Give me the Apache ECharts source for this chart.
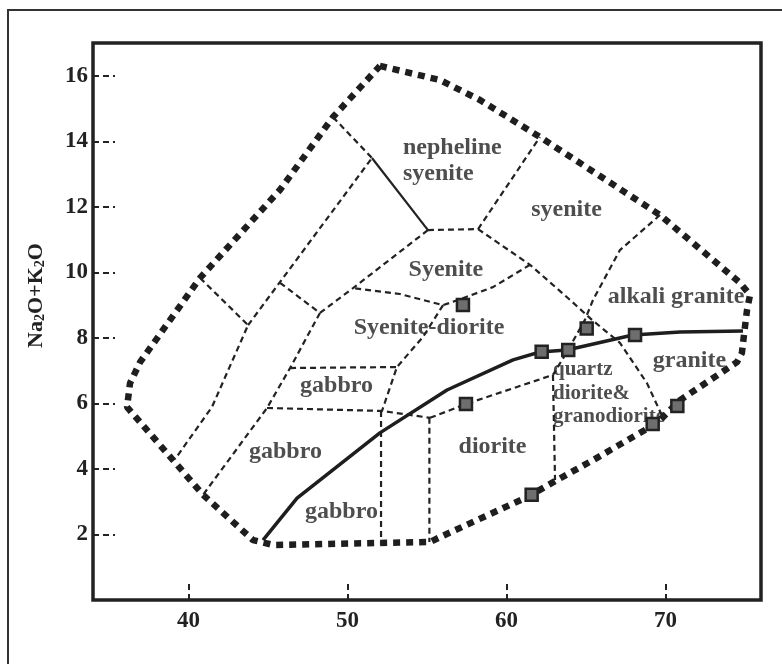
<!DOCTYPE html>
<html>
<head>
  <meta charset="utf-8">
  <title>TAS</title>
  <script src="https://cdn.jsdelivr.net/npm/echarts@6/dist/echarts.min.js"></script>
  <style>
    body { margin: 0; padding: 0; background: #fff; }
    #main { width: 782px; height: 664px; }
  </style>
</head>
<body>
<div id="main"></div>
<script>
  // axis ticks
  var xTicks = [40, 50, 60, 70];
  var yTicks = [2, 4, 6, 8, 10, 12, 14, 16];

  // outer field boundary (closed)
  var outline = [
    [52.04, 16.30], [55.82, 15.87], [58.33, 15.26], [62.10, 14.13], [69.65, 11.75],
    [74.68, 9.68], [75.31, 9.31], [75.12, 8.85], [74.93, 8.09], [74.80, 7.54],
    [74.49, 7.26], [70.91, 6.10], [69.46, 5.40], [65.44, 4.27], [63.17, 3.66],
    [61.29, 3.14], [55.82, 1.92], [55.19, 1.77], [45.32, 1.68], [44.06, 1.83],
    [40.92, 3.21], [36.14, 5.89], [36.33, 6.62], [36.96, 7.26], [40.73, 9.83],
    [45.76, 12.52], [49.09, 14.74], [52.04, 16.30]
  ];

  // alkaline / subalkaline divide
  var divide = [
    [44.69, 1.83], [46.83, 3.11], [52.04, 5.10], [56.26, 6.41], [60.41, 7.33],
    [62.10, 7.57], [63.80, 7.63], [67.95, 8.09], [70.91, 8.18], [74.87, 8.21]
  ];

  var nephSolid = [[51.54, 13.49], [55.06, 11.29]];

  // field borders (dashed)
  var b1 = [[40.73, 9.83], [43.75, 8.39], [41.48, 5.89], [39.16, 4.30]];
  var b2 = [[43.75, 8.39], [51.54, 13.49]];
  var b3 = [[49.09, 14.74], [51.54, 13.49]];
  var b4 = [[45.76, 9.68], [48.27, 8.76]];
  var b5 = [[48.27, 8.76], [50.35, 9.52], [55.06, 11.29]];
  var b6 = [[48.27, 8.76], [46.39, 7.08], [44.94, 5.86], [40.92, 3.21]];
  var b7 = [[55.06, 11.29], [58.21, 11.32]];
  var b8 = [[58.21, 11.32], [62.10, 14.13]];
  var b9 = [[58.21, 11.32], [61.48, 10.23], [63.99, 9.16], [65.37, 8.55], [67.13, 7.85], [68.83, 6.62], [69.80, 5.60]];
  var b10 = [[61.48, 10.23], [59.15, 9.55], [56.63, 9.10], [56.01, 9.00], [53.30, 9.34], [50.35, 9.52]];
  var b11 = [[56.01, 9.00], [54.75, 8.03], [53.11, 7.11], [52.17, 5.77]];
  var b12 = [[46.39, 7.08], [53.11, 7.11]];
  var b13 = [[44.94, 5.86], [52.17, 5.77], [55.19, 5.56]];
  var b14 = [[52.11, 5.77], [52.11, 1.68]];
  var b15 = [[55.15, 5.56], [55.15, 1.77]];
  var b16 = [[55.19, 5.56], [57.45, 5.98], [62.92, 6.87]];
  var b17 = [[62.92, 6.87], [63.05, 3.66]];
  var b18 = [[69.65, 11.75], [67.13, 10.68], [65.44, 9.16], [64.93, 8.55], [63.87, 7.63], [62.92, 6.87]];
  var borders = [b1, b2, b3, b4, b5, b6, b7, b8, b9, b10, b11, b12, b13, b14, b15, b16, b17, b18];

  // samples (SiO2, Na2O+K2O)
  var samples = [
    [57.26, 9.00], [65.04, 8.29], [68.08, 8.09], [62.21, 7.58], [63.88, 7.63],
    [57.45, 5.98], [61.58, 3.21], [69.19, 5.37], [70.74, 5.92]
  ];

  // field names: text, SiO2, alkali, size, align
  var fieldNames = [
    ['nepheline', 53.49, 13.80, 24, 'left'],
    ['syenite', 53.49, 13.00, 24, 'left'],
    ['syenite', 63.77, 11.90, 24, 'center'],
    ['Syenite', 56.19, 10.07, 24, 'center'],
    ['Syenite-diorite', 55.13, 8.30, 24, 'center'],
    ['alkali granite', 70.66, 9.25, 24, 'center'],
    ['granite', 71.50, 7.30, 24, 'center'],
    ['quartz', 62.92, 7.04, 21, 'left'],
    ['diorite&', 62.92, 6.29, 21, 'left'],
    ['granodiorite', 62.92, 5.60, 21, 'left'],
    ['diorite', 59.12, 4.67, 24, 'center'],
    ['gabbro', 49.31, 6.55, 24, 'center'],
    ['gabbro', 46.10, 4.53, 24, 'center'],
    ['gabbro', 49.62, 2.69, 24, 'center']
  ];

  var FONT = 'Liberation Serif';
  var INK = '#222222';

  function lineSeries(data, style, z) {
    return {
      type: 'line',
      data: data,
      symbol: 'none',
      silent: true,
      z: z,
      lineStyle: style
    };
  }

  var series = [];
  series.push(lineSeries(outline, { color: '#1e1e1e', width: 6.5, type: [7, 6], cap: 'butt' }, 2));
  borders.forEach(function (b) {
    series.push(lineSeries(b, { color: INK, width: 2.2, type: [6, 4] }, 2));
  });
  series.push(lineSeries(nephSolid, { color: INK, width: 2.2 }, 2));
  series.push(lineSeries(divide, { color: '#1e1e1e', width: 3.5 }, 3));
  series.push({
    type: 'scatter',
    data: fieldNames.map(function (f) {
      return {
        name: f[0],
        value: [f[1], f[2]],
        label: { fontSize: f[3], align: f[4] }
      };
    }),
    symbolSize: 0,
    silent: true,
    z: 4,
    label: {
      show: true,
      position: 'inside',
      formatter: '{b}',
      fontFamily: FONT,
      fontWeight: 'bold',
      color: INK
    }
  });
  series.push({
    type: 'scatter',
    data: samples,
    symbol: 'rect',
    symbolSize: 12,
    silent: true,
    z: 5,
    itemStyle: { color: '#6e6e6e', borderColor: INK, borderWidth: 2.5, opacity: 1 }
  });

  var tickStyle = { color: INK, width: 2, type: [6, 4] };
  var labelStyle = { fontFamily: FONT, fontWeight: 'bold', fontSize: 23, color: INK };

  var myChart = echarts.init(document.getElementById('main'));
  var option = {
    animation: false,
    graphic: [{
      type: 'rect',
      silent: true,
      shape: { x: 8, y: 10, width: 820, height: 700 },
      style: { fill: 'transparent', stroke: '#333', lineWidth: 2 }
    }],
    grid: {
      left: 93, right: 21, top: 43, bottom: 64,
      show: true,
      borderColor: INK,
      borderWidth: 3.5
    },
    xAxis: {
      type: 'value',
      min: 34,
      max: 76,
      splitLine: { show: false },
      axisLine: { show: false },
      axisTick: { show: true, inside: true, length: 20, customValues: xTicks, lineStyle: tickStyle },
      axisLabel: Object.assign({ customValues: xTicks, margin: 10 }, labelStyle)
    },
    yAxis: {
      type: 'value',
      min: 0,
      max: 17,
      splitLine: { show: false },
      axisLine: { show: false },
      axisTick: { show: true, inside: true, length: 22, customValues: yTicks, lineStyle: tickStyle },
      axisLabel: Object.assign({ customValues: yTicks, margin: 5 }, labelStyle),
      name: '{t|Na}{s|2}{t|O+K}{s|2}{t|O}',
      nameLocation: 'middle',
      nameRotate: 90,
      nameGap: 46,
      nameTextStyle: {
        padding: [0, 0, 0, 52],
        rich: {
          t: { fontFamily: FONT, fontWeight: 'bold', fontSize: 22, color: INK },
          s: { fontFamily: FONT, fontWeight: 'bold', fontSize: 14, color: INK, verticalAlign: 'bottom' }
        }
      }
    },
    series: series
  };
  myChart.setOption(option);
</script>
</body>
</html>
